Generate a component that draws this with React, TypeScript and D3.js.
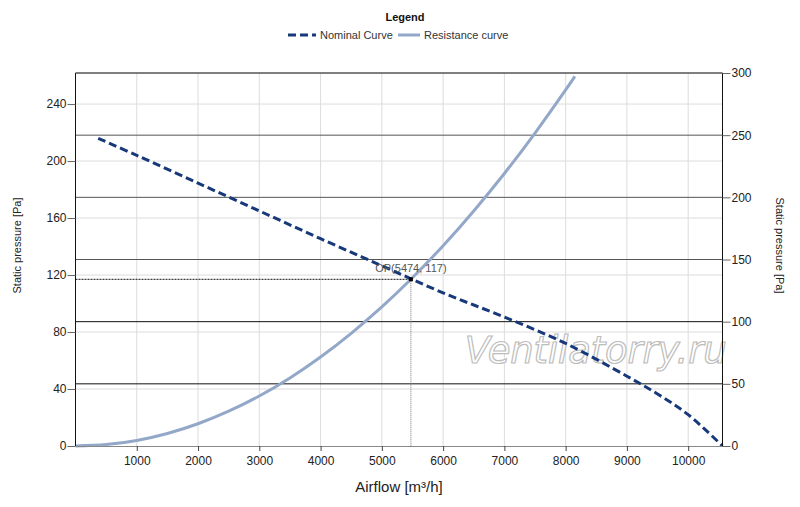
import { useEffect, useRef } from "react";

import * as d3 from "d3";

// Nominal fan curve: airflow [m3/h], static pressure [Pa]
const nominal_airflow = [370, 1000, 2000, 3000, 4000, 5000, 6000, 7000, 8000, 9000, 9500, 10000, 10560];
const nominal_pressure = [216, 204, 184.5, 165, 145.5, 126.5, 107.5, 90.5, 72, 49, 36.5, 22, 0];

// Resistance (system) curve
const resistance_airflow = [0, 500, 1000, 1500, 2000, 2500, 3000, 3500, 4000, 4500, 5000, 5474, 6000, 6500, 7000, 7500, 8000, 8150];
const resistance_pressure = [0, 1, 3.9, 8.8, 15.6, 24.4, 35.1, 47.8, 62.5, 79.1, 97.6, 117, 140.6, 165, 191.3, 219.6, 249.9, 259.4];

// Operating point
const op_point = { airflow: 5474, pressure: 117 };

const x_ticks = [1000, 2000, 3000, 4000, 5000, 6000, 7000, 8000, 9000, 10000];
const left_ticks = [0, 40, 80, 120, 160, 200, 240];
const right_ticks = [0, 50, 100, 150, 200, 250, 300];

const svg_width = 800;
const svg_height = 507;
const font = "'Liberation Sans', Arial, sans-serif";
const nominal_color = "#17397a";
const resistance_color = "#93a8c9";

export default function App() {
    const ref = useRef(null);

    useEffect(() => {
        const margin = { left: 75.5, right: 77.5, top: 73, bottom: 61 };
        const graph_width = svg_width - margin.left - margin.right;
        const graph_height = svg_height - margin.top - margin.bottom;

        const svg = d3.select(ref.current)
            .append("svg")
                .attr("width", svg_width)
                .attr("height", svg_height)
                .style("position", "absolute")
                .style("left", "0px")
                .style("top", "0px")
                .style("background-color", "white")
                .style("font-family", font);

        const g = svg.append("g")
            .attr("transform", "translate(" + margin.left + "," + margin.top + ")");

        const x = d3.scaleLinear().domain([0, 10560]).range([0, graph_width]);
        const y = d3.scaleLinear().domain([0, 261.8]).range([graph_height, 0]);
        const y2 = d3.scaleLinear().domain([0, 300]).range([graph_height, 0]);

        // light grid
        g.append("g")
            .selectAll("line")
            .data(x_ticks)
            .enter().append("line")
                .attr("x1", d => x(d)).attr("x2", d => x(d))
                .attr("y1", 0).attr("y2", graph_height)
                .attr("stroke", "#dcdcdc").attr("stroke-width", 1);

        g.append("g")
            .selectAll("line")
            .data(left_ticks.filter(d => d > 0))
            .enter().append("line")
                .attr("x1", 0).attr("x2", graph_width)
                .attr("y1", d => y(d)).attr("y2", d => y(d))
                .attr("stroke", "#dcdcdc").attr("stroke-width", 1);

        // dark grid from the right axis
        g.append("g")
            .selectAll("line")
            .data(right_ticks.filter(d => d > 0))
            .enter().append("line")
                .attr("x1", 0).attr("x2", graph_width)
                .attr("y1", d => y2(d)).attr("y2", d => y2(d))
                .attr("stroke", d => d >= 150 ? "#555" : "#111").attr("stroke-width", 1);

        // watermark
        g.append("text")
            .attr("x", x(8490))
            .attr("y", y(58))
            .attr("text-anchor", "middle")
            .style("font-family", "'DejaVu Sans', sans-serif")
            .style("font-style", "italic")
            .style("font-size", "37px")
            .attr("fill", "white")
            .attr("stroke", "#bdbdbd")
            .attr("stroke-width", 1.2)
            .attr("textLength", 262)
            .text("Ventilatorry.ru");

        // operating point guides
        g.append("line")
            .attr("x1", 0).attr("x2", x(op_point.airflow))
            .attr("y1", y(op_point.pressure)).attr("y2", y(op_point.pressure))
            .attr("stroke", "#111").attr("stroke-width", 1).attr("stroke-dasharray", "2,1");
        g.append("line")
            .attr("x1", x(op_point.airflow)).attr("x2", x(op_point.airflow))
            .attr("y1", y(op_point.pressure)).attr("y2", graph_height)
            .attr("stroke", "#777").attr("stroke-width", 1).attr("stroke-dasharray", "1,1");

        // curves
        const resistanceLine = d3.line<number>()
            .x(d => x(d))
            .y((d, i) => y(resistance_pressure[i]))
            .curve(d3.curveNatural);
        g.append("path")
            .datum(resistance_airflow)
            .attr("d", resistanceLine)
            .attr("fill", "none")
            .attr("stroke", resistance_color)
            .attr("stroke-width", 3);

        const nominalLine = d3.line<number>()
            .x(d => x(d))
            .y((d, i) => y(nominal_pressure[i]))
            .curve(d3.curveCatmullRom);
        g.append("path")
            .datum(nominal_airflow)
            .attr("d", nominalLine)
            .attr("fill", "none")
            .attr("stroke", nominal_color)
            .attr("stroke-width", 3)
            .attr("stroke-dasharray", "8,4");

        g.append("rect")
            .attr("x", x(op_point.airflow) - 2)
            .attr("y", y(op_point.pressure) - 2)
            .attr("width", 4).attr("height", 4)
            .attr("fill", "black");

        g.append("text")
            .attr("x", x(op_point.airflow))
            .attr("y", y(op_point.pressure) - 7)
            .attr("text-anchor", "middle")
            .style("font-size", "11px")
            .attr("fill", "#555")
            .text("OP(" + op_point.airflow + ", " + op_point.pressure + ")");

        // axes
        const bottomAxis = g.append("g")
            .attr("transform", "translate(0," + graph_height + ")")
            .call(d3.axisBottom(x).tickValues(x_ticks).tickSize(5).tickSizeOuter(0).tickFormat(d3.format("d")));
        bottomAxis.select(".domain").attr("stroke", "#888");
        bottomAxis.selectAll(".tick line").attr("stroke", "#444");
        bottomAxis.selectAll("text").attr("fill", "#222").style("font-size", "12px").style("font-family", font).attr("dy", "0.95em");

        const leftAxis = g.append("g")
            .call(d3.axisLeft(y).tickValues(left_ticks).tickSize(8).tickSizeOuter(0));
        leftAxis.select(".domain").attr("stroke", "#111").attr("d", "M0,0V" + graph_height);
        leftAxis.selectAll(".tick line").attr("stroke", "#666");
        leftAxis.selectAll("text").attr("fill", "#222").style("font-size", "12px").style("font-family", font).attr("x", -9);

        const rightAxis = g.append("g")
            .attr("transform", "translate(" + graph_width + ",0)")
            .call(d3.axisRight(y2).tickValues(right_ticks).tickSize(8).tickSizeOuter(0));
        rightAxis.select(".domain").attr("stroke", "#111").attr("d", "M0,0V" + graph_height);
        rightAxis.selectAll(".tick line").attr("stroke", "#666");
        rightAxis.selectAll("text").attr("fill", "#222").style("font-size", "12px").style("font-family", font).attr("x", 9);

        // top border
        g.append("line")
            .attr("x1", 0).attr("x2", graph_width)
            .attr("y1", 0).attr("y2", 0)
            .attr("stroke", "#555");

        // axis titles
        svg.append("text")
            .attr("x", margin.left + graph_width / 2)
            .attr("y", 492)
            .attr("text-anchor", "middle")
            .style("font-size", "15px")
            .attr("fill", "#222")
            .text("Airflow [m³/h]");

        svg.append("text")
            .attr("transform", "translate(21," + (margin.top + graph_height / 2 - 14) + ") rotate(-90)")
            .attr("text-anchor", "middle")
            .style("font-size", "11px")
            .attr("fill", "#222")
            .text("Static pressure [Pa]");

        svg.append("text")
            .attr("transform", "translate(776," + (margin.top + graph_height / 2 - 14) + ") rotate(90)")
            .attr("text-anchor", "middle")
            .style("font-size", "11px")
            .attr("fill", "#222")
            .text("Static pressure [Pa]");

        // legend
        svg.append("text")
            .attr("x", 405).attr("y", 21)
            .attr("text-anchor", "middle")
            .style("font-size", "11px")
            .style("font-weight", "bold")
            .attr("fill", "#111")
            .text("Legend");

        const legend = svg.append("g").attr("transform", "translate(288,35)");
        legend.append("line")
            .attr("x1", 0).attr("x2", 28).attr("y1", 0).attr("y2", 0)
            .attr("stroke", nominal_color).attr("stroke-width", 3).attr("stroke-dasharray", "8,4");
        legend.append("text")
            .attr("x", 32).attr("y", 4)
            .style("font-size", "11px").attr("fill", "#333")
            .text("Nominal Curve");
        legend.append("line")
            .attr("x1", 110).attr("x2", 132).attr("y1", 0).attr("y2", 0)
            .attr("stroke", resistance_color).attr("stroke-width", 3);
        legend.append("text")
            .attr("x", 136).attr("y", 4)
            .style("font-size", "11px").attr("fill", "#333")
            .text("Resistance curve");

        return () => {
            d3.select(ref.current).selectAll("*").remove();
        }
    }, [ref]);

    return (
        <div ref={ref}></div>
    );
}
